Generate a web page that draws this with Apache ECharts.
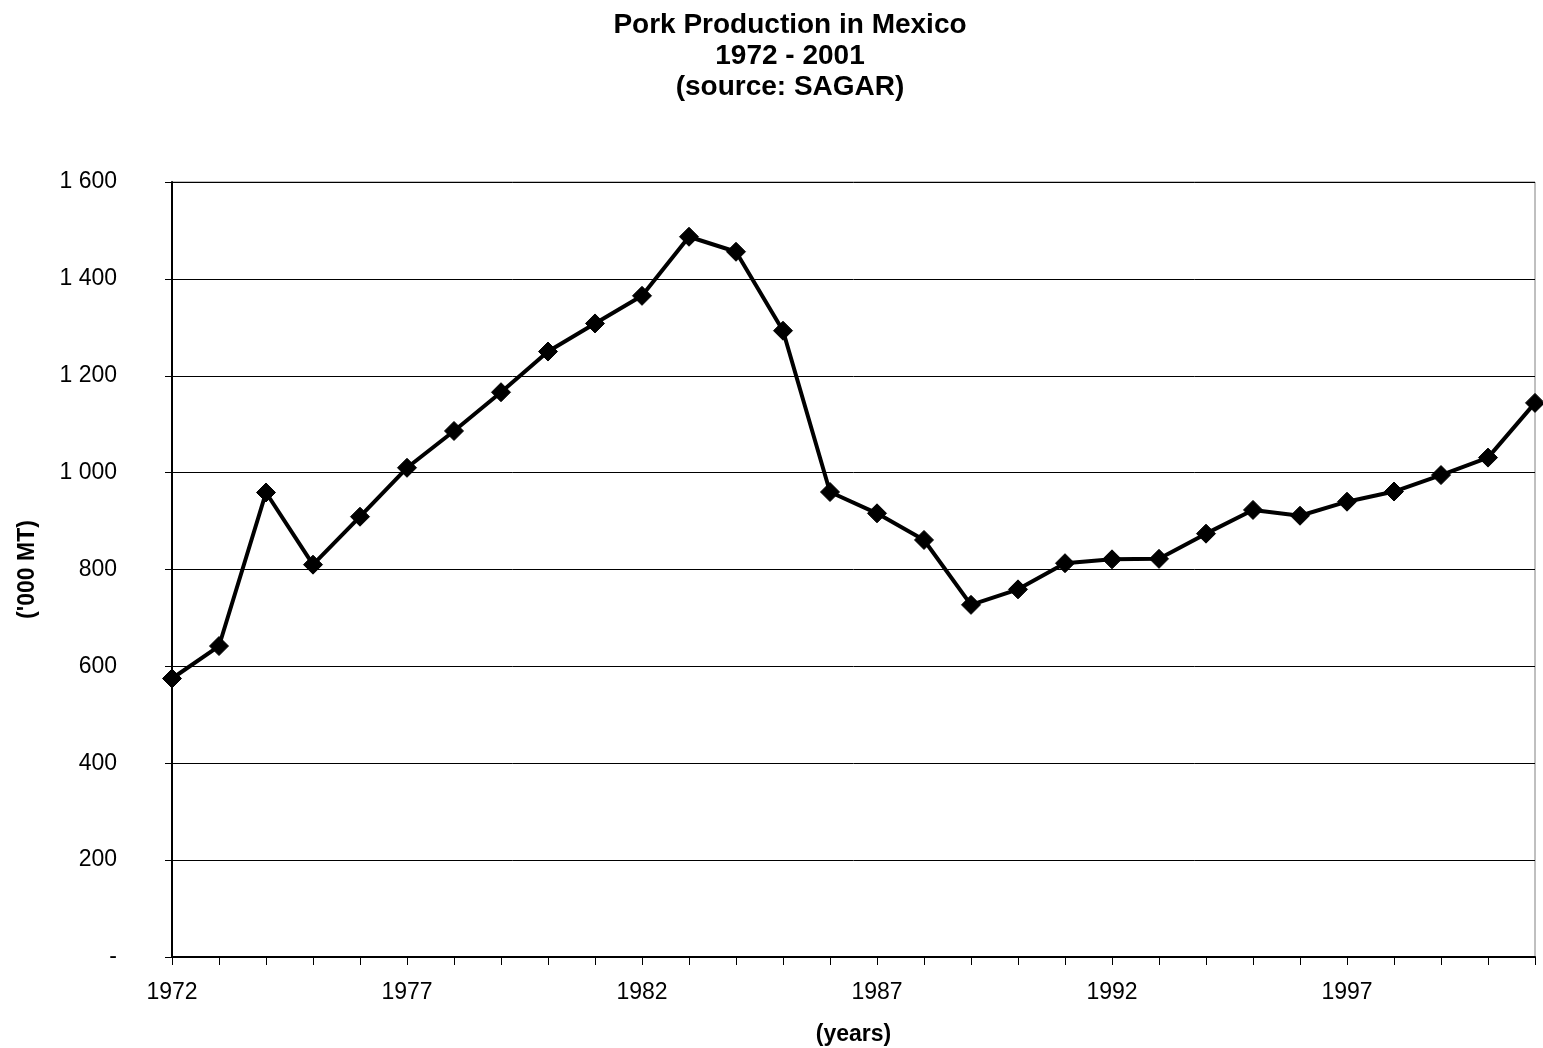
<!DOCTYPE html>
<html>
<head>
<meta charset="utf-8">
<title>Pork Production in Mexico 1972 - 2001</title>
<script src="https://cdn.jsdelivr.net/npm/echarts@6/dist/echarts.min.js"></script>
<style>
  html, body { margin: 0; padding: 0; background: #fff; }
  #chart { width: 1543px; height: 1048px; }
</style>
</head>
<body>
<div id="chart"></div>
<script>
// Pork production in Mexico, thousand metric tonnes (source: SAGAR)
const years = [
  '1972', '1973', '1974', '1975', '1976', '1977', '1978', '1979', '1980', '1981',
  '1982', '1983', '1984', '1985', '1986', '1987', '1988', '1989', '1990', '1991',
  '1992', '1993', '1994', '1995', '1996', '1997', '1998', '1999', '2000', '2001'
];
const production = [
  575, 642, 959, 810, 909, 1010, 1086, 1166, 1250, 1308,
  1365, 1487, 1456, 1293, 960, 916, 861, 727, 759, 813,
  821, 822, 874, 923, 911, 940, 961, 995, 1031, 1144
];
const titleLines = ['Pork Production in Mexico', '1972 - 2001', '(source: SAGAR)'];
const yAxisTitle = "('000 MT)";
const xAxisTitle = '(years)';

const FONT = 'Liberation Sans, Arial, Helvetica, sans-serif';

// "1 600" style thousands separator, dash for zero
function fmtThousands(v) {
  if (v === 0) return '-';
  return String(v).replace(/\B(?=(\d{3})+(?!\d))/g, ' ');
}

const chart = echarts.init(document.getElementById('chart'), null, { renderer: 'canvas' });

chart.setOption({
  backgroundColor: '#ffffff',
  animation: false,
  title: {
    text: titleLines.join('\n'),
    left: 785,
    textAlign: 'center',
    top: 5,
    textStyle: {
      fontFamily: FONT,
      fontWeight: 'bold',
      fontSize: 28,
      lineHeight: 31,
      color: '#000'
    }
  },
  grid: {
    left: 172,
    right: 8,
    top: 182,
    bottom: 91,
    containLabel: false,
    outerBoundsMode: 'none',
    show: true,
    borderColor: '#808080',
    borderWidth: 1,
    backgroundColor: 'transparent'
  },
  xAxis: {
    type: 'category',
    data: years,
    boundaryGap: false,
    name: xAxisTitle,
    nameLocation: 'middle',
    nameGap: 66,
    nameTextStyle: { fontFamily: FONT, fontWeight: 'bold', fontSize: 23, color: '#000' },
    axisLine: { show: true, lineStyle: { color: '#000', width: 2 } },
    axisTick: { show: true, interval: 0, length: 8, lineStyle: { color: '#000', width: 1 } },
    axisLabel: {
      interval: 4,
      margin: 24,
      fontFamily: FONT,
      fontSize: 23,
      color: '#000'
    },
    splitLine: { show: false }
  },
  yAxis: {
    type: 'value',
    min: 0,
    max: 1600,
    interval: 200,
    name: yAxisTitle,
    nameLocation: 'middle',
    nameRotate: 90,
    nameGap: 133,
    nameTextStyle: { fontFamily: FONT, fontWeight: 'bold', fontSize: 23, color: '#000' },
    axisLine: { show: true, lineStyle: { color: '#000', width: 2 } },
    axisTick: { show: true, length: 7, lineStyle: { color: '#000', width: 1 } },
    axisLabel: {
      margin: 55,
      fontFamily: FONT,
      fontSize: 23,
      color: '#000',
      formatter: fmtThousands
    },
    splitLine: { show: true, lineStyle: { color: '#000', width: 1 } }
  },
  series: [{
    type: 'line',
    data: production,
    symbol: 'diamond',
    symbolSize: 19,
    showAllSymbol: true,
    clip: false,
    lineStyle: { color: '#000', width: 4 },
    itemStyle: { color: '#000', borderColor: '#000' }
  }]
});
</script>
</body>
</html>
